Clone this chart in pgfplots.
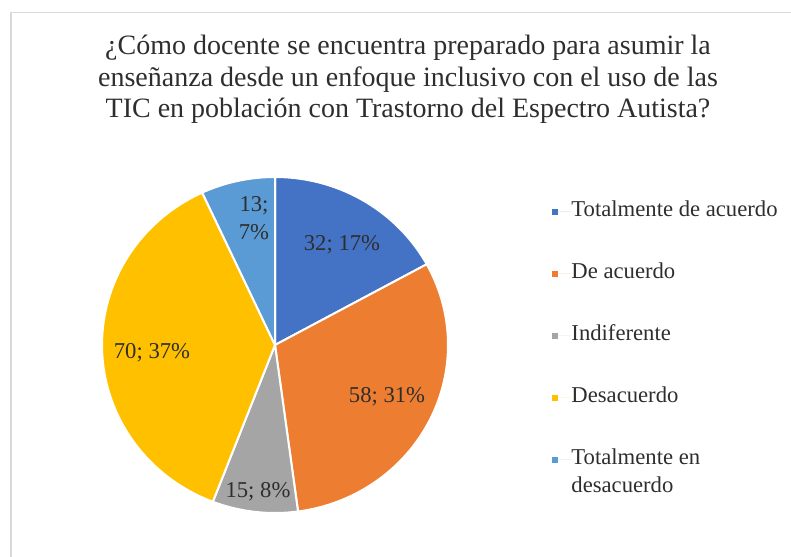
\documentclass[border=0pt]{standalone}
\usepackage{fontspec}
\setmainfont{Liberation Serif}
\usepackage{pgfplots}
\usepackage{pgfplotstable}
\pgfplotsset{compat=1.18}

\definecolor{slice0}{HTML}{4472C4}
\definecolor{slice1}{HTML}{ED7D31}
\definecolor{slice2}{HTML}{A5A5A5}
\definecolor{slice3}{HTML}{FFC000}
\definecolor{slice4}{HTML}{5B9BD5}
\definecolor{txt}{HTML}{2E2E2E}

% respuestas por categoria
\pgfplotstableread{
value
32
58
15
70
13
}\piedata
\pgfplotstablecreatecol[create col/expr accum={\pgfmathaccuma + \thisrow{value}}{0}]{cum}{\piedata}

\begin{document}
\begin{tikzpicture}
\pgfplotstablegetelem{4}{cum}\of\piedata
\let\total\pgfplotsretval
\begin{axis}[
    width=593.25pt, height=417pt,
    scale only axis,
    xmin=0, xmax=791,
    ymin=0, ymax=556,
    hide axis,
    legend style={
        draw=none, fill=none,
        at={(0.698,0.6385)}, anchor=north west,
        inner sep=0pt, outer sep=0pt,
        row sep=30.5pt,
        font=\fontsize{17}{20.5}\selectfont,
        text=txt,
        nodes={inner sep=0pt, text height=12pt, text depth=4pt},
    },
    legend cell align=left,
]
% marco del grafico
\draw[gray!30, line width=0.8pt] (axis cs:11,-20) |- (axis cs:820,543.5);

\pgfplotsinvokeforeach{0,...,4}{
    \pgfplotstablegetelem{#1}{cum}\of\piedata
    \pgfmathsetmacro\angB{\pgfplotsretval/\total*360}
    \pgfplotstablegetelem{#1}{value}\of\piedata
    \pgfmathsetmacro\angA{\angB-\pgfplotsretval/\total*360}
    \addplot[fill=slice#1, draw=white, line width=1.5pt,
        domain=\angA:\angB, samples=60,
        legend image code/.code={
            \path[fill=slice#1, draw=none] (0pt,-2.3pt) rectangle (4.6pt,2.3pt);
            \path[draw=none] (4.6pt,0pt) -- (14.5pt,0pt);}]
        ({275+173*sin(x)},{211+168*cos(x)}) -- (axis cs:275,211) -- cycle;
}
\legend{Totalmente de acuerdo, De acuerdo, Indiferente, Desacuerdo,
    {\parbox[t]{5cm}{Totalmente en\\desacuerdo}}}

% titulo
\begin{scope}[every node/.style={anchor=base, text=txt, font=\fontsize{21}{24}\selectfont}]
\node at (axis cs:408,501) {¿Cómo docente se encuentra preparado para asumir la};
\node at (axis cs:408,469) {enseñanza desde un enfoque inclusivo con el uso de las};
\node at (axis cs:408,438) {TIC en población con Trastorno del Espectro Autista?};
\end{scope}

% etiquetas de datos
\begin{scope}[every node/.style={text=txt, font=\fontsize{17}{20.5}\selectfont, align=center}]
\node at (axis cs:342,311) {32; 17\%};
\node at (axis cs:387,159) {58; 31\%};
\node at (axis cs:258,64) {15; 8\%};
\node at (axis cs:152,203) {70; 37\%};
\node at (axis cs:254,338) {13;\\7\%};
\end{scope}
\end{axis}
\pgfresetboundingbox
\useasboundingbox (current axis.south west) rectangle (current axis.north east);
\end{tikzpicture}
\end{document}
